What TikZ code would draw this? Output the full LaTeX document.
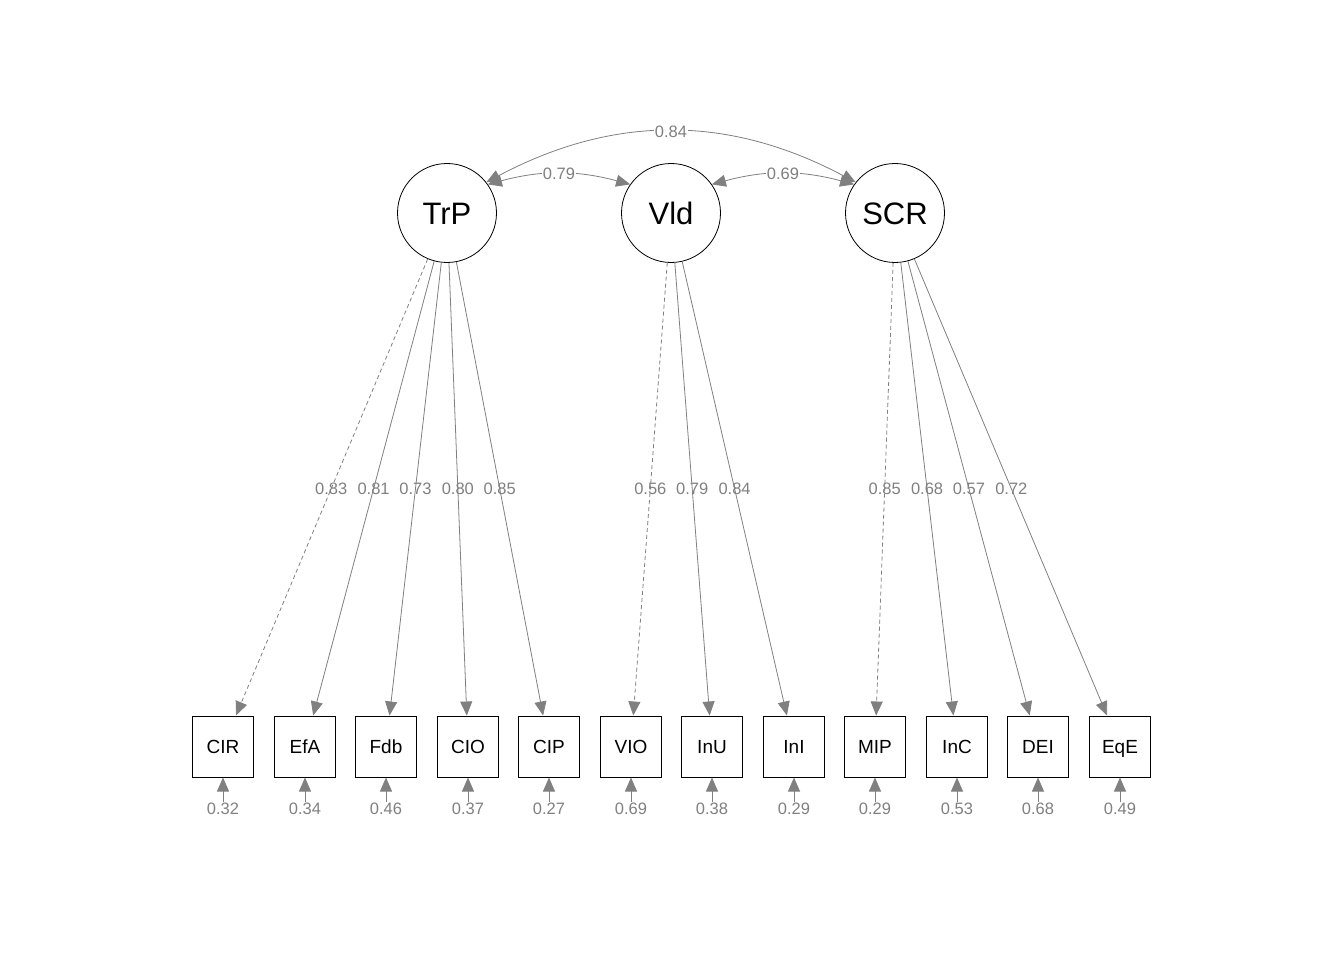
\documentclass[tikz,border=0pt]{standalone}
\usepackage{fontspec}
\setmainfont{Liberation Sans}
\usetikzlibrary{arrows.meta,calc}
\definecolor{edgegray}{HTML}{808080}
\tikzset{
  lat/.style={circle,draw,line width=.8pt,minimum size=99pt,inner sep=0pt,text height=22.2pt,text depth=0pt,font=\fontsize{31}{31}\selectfont},
  man/.style={rectangle,draw,line width=1pt,minimum width=61pt,minimum height=61pt,inner sep=0pt,text height=13.6pt,text depth=0pt,font=\fontsize{19}{19}\selectfont},
  lbl/.style={text=edgegray,inner sep=.5pt,font=\fontsize{16.5}{16.5}\selectfont},
  load/.style={draw=edgegray,line width=.8pt,-{Triangle[length=14pt,width=12pt]}},
  cov/.style={draw=edgegray,line width=.8pt,{Triangle[length=14pt,width=12pt]}-{Triangle[length=14pt,width=12pt]}},
  fix/.style={dash pattern=on 4pt off 3pt}
}
\begin{document}
\begin{tikzpicture}[x=1pt,y=-1pt]
    \useasboundingbox (0,0) rectangle (1344,960);
    % latent variables
    \node[lat] (TrP) at (447,213) {TrP};
    \node[lat] (Vld) at (671,213) {Vld};
    \node[lat] (SCR) at (895,213) {SCR};
    % indicators and residuals
    \foreach \n/\x/\r in {CIR/223/0.32,EfA/305/0.34,Fdb/386/0.46,CIO/468/0.37,CIP/549/0.27,VIO/631/0.69,InU/712/0.38,InI/794/0.29,MIP/875/0.29,InC/957/0.53,DEI/1038/0.68,EqE/1120/0.49}{
        \node[man] (\n) at (\x,746.5) {\n};
        \node[lbl] (r\n) at (\x,809) {\r};
        \draw[load] (r\n) -- (\n);
    }
    % loadings
    \foreach \f/\n/\l/\s in {TrP/CIR/0.83/fix,TrP/EfA/0.81/solid,TrP/Fdb/0.73/solid,TrP/CIO/0.80/solid,TrP/CIP/0.85/solid,
                            Vld/VIO/0.56/fix,Vld/InU/0.79/solid,Vld/InI/0.84/solid,
                            SCR/MIP/0.85/fix,SCR/InC/0.68/solid,SCR/DEI/0.57/solid,SCR/EqE/0.72/solid}{
        \draw[load,\s] (\f) -- (\n);
        \node[lbl] (l\n) at ($(\f)!.517!(\n)$) {\l};
    }
    % covariances
    \draw[cov] (TrP.35) to[out=15,in=165] node[lbl,fill=white] (c1) {0.79} (Vld.145);
    \draw[cov] (Vld.35) to[out=15,in=165] node[lbl,fill=white] (c2) {0.69} (SCR.145);
    \draw[cov] (TrP.38) to[out=28,in=152] node[lbl,fill=white] (c3) {0.84} (SCR.142);
\end{tikzpicture}
\end{document}
